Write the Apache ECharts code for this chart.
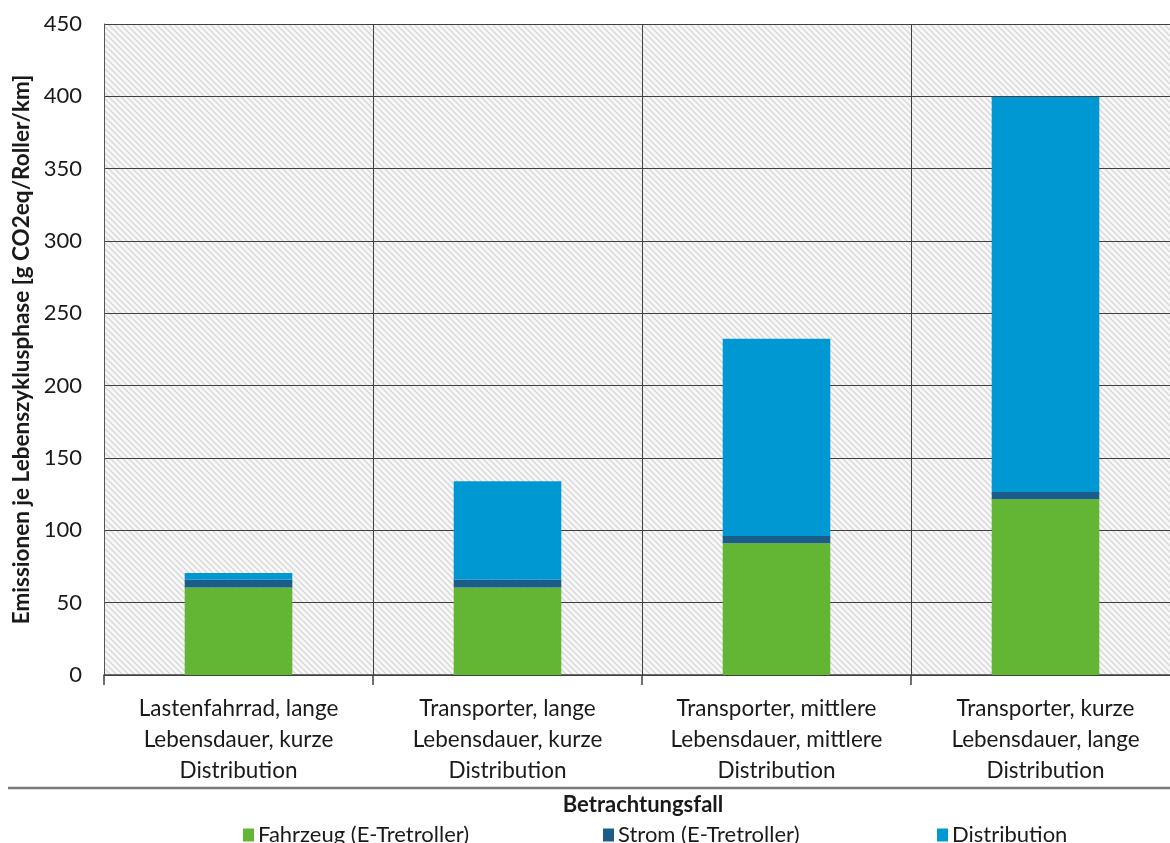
<!DOCTYPE html>
<html>
<head>
<meta charset="utf-8">
<script src="https://cdn.jsdelivr.net/npm/echarts@6/dist/echarts.min.js"></script>
<style>
html,body{margin:0;padding:0;background:#fff;}
#chart{width:1170px;height:843px;}
</style>
</head>
<body>
<div id="chart"></div>
<script>
const categories = [
  "Lastenfahrrad, lange\nLebensdauer, kurze\nDistribution",
  "Transporter, lange\nLebensdauer, kurze\nDistribution",
  "Transporter, mittlere\nLebensdauer, mittlere\nDistribution",
  "Transporter, kurze\nLebensdauer, lange\nDistribution"
];
const fahrzeug = [60.5, 60.5, 91, 121.5];
const strom = [5.5, 5.5, 5, 5];
const distribution = [4.5, 68, 136.5, 273];
const seriesNames = ["Fahrzeug (E-Tretroller)", "Strom (E-Tretroller)", "Distribution"];
const yTicks = [0, 50, 100, 150, 200, 250, 300, 350, 400, 450];

const FONT = 'Lato';

// hatch pattern
const pc = document.createElement('canvas');
pc.width = 6; pc.height = 6;
const g = pc.getContext('2d');
g.fillStyle = '#f8f8f8';
g.fillRect(0, 0, 6, 6);
g.strokeStyle = '#d9d9d9';
g.lineWidth = 1.5;
g.beginPath();
g.moveTo(-1, -1); g.lineTo(7, 7);
g.moveTo(-7, -1); g.lineTo(1, 7);
g.moveTo(5, -1); g.lineTo(13, 7);
g.stroke();

const chart = echarts.init(document.getElementById('chart'));
chart.setOption({
  animation: false,
  textStyle: { fontFamily: FONT },
  grid: {
    left: 104, top: 24, right: -10, bottom: 168,
    outerBoundsMode: 'none',
    containLabel: false,
    show: true,
    backgroundColor: { image: pc, repeat: 'repeat' },
    borderWidth: 0
  },
  xAxis: {
    type: 'category',
    data: categories,
    axisLine: { lineStyle: { color: '#404040', width: 1.5 } },
    axisTick: { show: true, interval: 0, length: 10, lineStyle: { color: '#404040', width: 1.5 } },
    splitLine: { show: true, interval: 0, lineStyle: { color: '#404040', width: 1 } },
    axisLabel: { interval: 0, hideOverlap: false, color: '#1a1a1a', fontSize: 22.5, lineHeight: 31, margin: 18, fontFamily: FONT }
  },
  yAxis: {
    type: 'value',
    min: 0, max: 450, interval: 50,
    name: 'Emissionen je Lebenszyklusphase [g CO2eq/Roller/km]',
    nameLocation: 'middle',
    nameGap: 70,
    nameTextStyle: { fontSize: 22.5, fontWeight: 'bold', color: '#1a1a1a', fontFamily: FONT },
    axisLine: { show: true, lineStyle: { color: '#555', width: 1 } },
    axisTick: { show: false },
    splitLine: { show: true, lineStyle: { color: '#404040', width: 1.2 } },
    axisLabel: {
      color: '#1a1a1a', fontSize: 22, margin: 22, fontFamily: FONT,
      formatter: v => yTicks.includes(v) ? String(v) : ''
    }
  },
  legend: [
    { data: [seriesNames[0]], left: 238, top: 819 },
    { data: [seriesNames[1]], left: 598, top: 819 },
    { data: [seriesNames[2]], left: 932, top: 819 }
  ].map(l => Object.assign(l, {
    itemWidth: 11, itemHeight: 13, itemGap: 5,
    icon: 'rect',
    textStyle: { fontSize: 22, color: '#1a1a1a', fontFamily: FONT, padding: [0, 0, 0, -1] }
  })),
  graphic: [
    { type: 'line', shape: { x1: 8, y1: 788, x2: 1170, y2: 788 }, style: { stroke: '#7a7a7a', lineWidth: 2.5 } },
    { type: 'text', x: 643, y: 805, style: { text: 'Betrachtungsfall', fontSize: 22, fontWeight: 'bold', fontFamily: FONT, fill: '#1a1a1a', textAlign: 'center', textVerticalAlign: 'middle' } }
  ],
  series: [
    { name: seriesNames[0], type: 'bar', stack: 's', data: fahrzeug, barWidth: '40%', itemStyle: { color: '#62b634' } },
    { name: seriesNames[1], type: 'bar', stack: 's', data: strom, barWidth: '40%', itemStyle: { color: '#1a5d88' } },
    { name: seriesNames[2], type: 'bar', stack: 's', data: distribution, barWidth: '40%', itemStyle: { color: '#0098d3' } }
  ]
});
</script>
</body>
</html>
